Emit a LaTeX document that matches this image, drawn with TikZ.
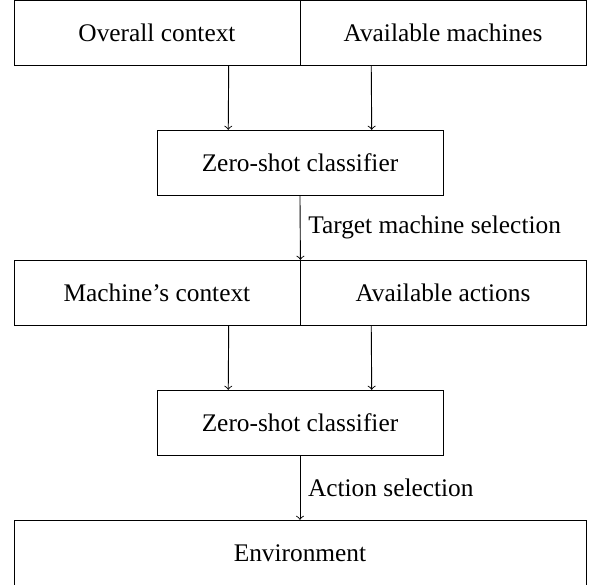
\documentclass[tikz,border=0pt]{standalone}
\usepackage{fontspec}
\setmainfont{Liberation Serif}
\usetikzlibrary{calc}

\begin{document}
\begin{tikzpicture}[font=\fontsize{11.1}{13}\selectfont]
      \tikzset{block/.style={draw, rectangle, minimum width=4.4cm, minimum height=1cm, inner sep=0pt}}
      \useasboundingbox (-0.215,0.02) rectangle (8.862,9.005);

      \node[block] (overall) at (2.2,8.5) {Overall context};
      \node[block] (machines) at (6.6,8.5) {Available machines};
      \node[block] (clf1) at (4.4,6.5) {Zero-shot classifier};
      \draw[->] ($(overall.south west)!.75!(overall.south east)$) -- ($(clf1.north west)!.25!(clf1.north east)$);
      \draw[->] ($(machines.south west)!.25!(machines.south east)$) -- ($(clf1.north west)!.75!(clf1.north east)$);

      \node[block] (mctx) at (2.2,4.5) {Machine's context};
      \node[block] (actions) at (6.6,4.5) {Available actions};
      \draw[->] (clf1.south) -- node[right] {Target machine selection} (mctx.north east);

      \node[block] (clf2) at (4.4,2.5) {Zero-shot classifier};
      \draw[->] ($(mctx.south west)!.75!(mctx.south east)$) -- ($(clf2.north west)!.25!(clf2.north east)$);
      \draw[->] ($(actions.south west)!.25!(actions.south east)$) -- ($(clf2.north west)!.75!(clf2.north east)$);

      \node[block, minimum width=8.8cm] (env) at (4.4,0.5) {Environment};
      \draw[->] (clf2.south) -- node[right] {Action selection} (env.north);
\end{tikzpicture}
\end{document}
